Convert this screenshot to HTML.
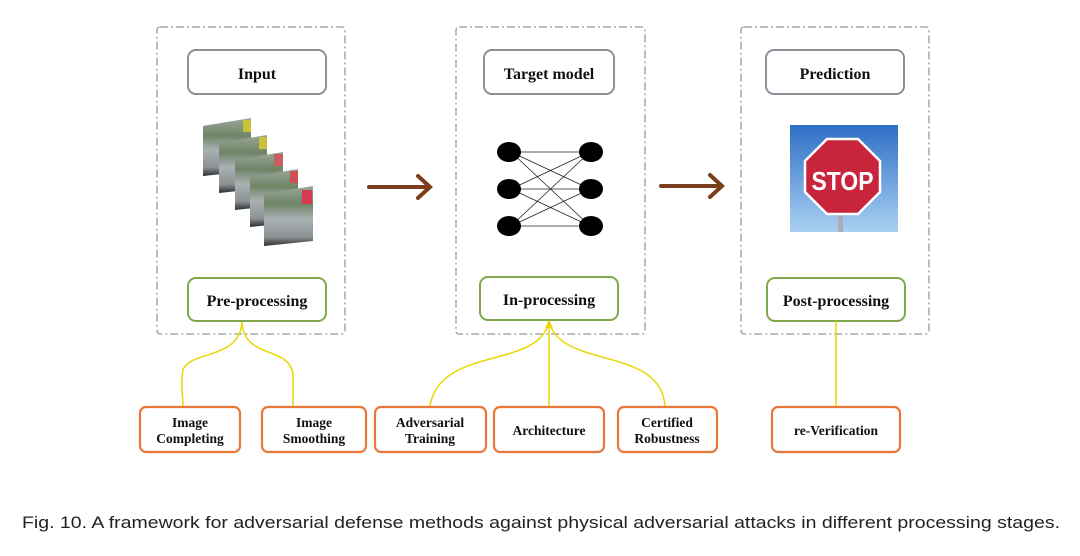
<!DOCTYPE html>
<html><head><meta charset="utf-8"><style>
html,body{margin:0;padding:0;background:#fff;}
svg{display:block;}
.t{font-family:"Liberation Serif",serif;font-weight:bold;fill:#111;text-anchor:middle;}
</style></head><body>
<svg width="1080" height="556" viewBox="0 0 1080 556" xmlns="http://www.w3.org/2000/svg">
<defs>
<linearGradient id="ph" x1="0" y1="0" x2="0" y2="1">
<stop offset="0" stop-color="#9aa79a"/><stop offset="0.3" stop-color="#6f8466"/><stop offset="0.55" stop-color="#a9b1b3"/><stop offset="0.85" stop-color="#8c9194"/><stop offset="1" stop-color="#2b2e30"/>
</linearGradient>
<linearGradient id="sky" x1="0" y1="0" x2="0" y2="1">
<stop offset="0" stop-color="#2f6fc6"/><stop offset="1" stop-color="#a9d0f2"/>
</linearGradient>
</defs>
<g fill="none" stroke="#999" stroke-width="1.3" stroke-dasharray="8,3,2,3">
<rect x="157" y="27" width="188" height="307" rx="3"/>
<rect x="456" y="27" width="189" height="307" rx="3"/>
<rect x="741" y="27" width="188" height="307" rx="3"/>
</g>
<g fill="#fff" stroke="#8a8f98" stroke-width="2">
<rect x="188" y="50" width="138" height="44" rx="8"/>
<rect x="484" y="50" width="130" height="44" rx="8"/>
<rect x="766" y="50" width="138" height="44" rx="8"/>
</g>
<g fill="#fff" stroke="#7fa84a" stroke-width="2">
<rect x="188" y="278" width="138" height="43" rx="8"/>
<rect x="480" y="277" width="138" height="43" rx="8"/>
<rect x="767" y="278" width="138" height="43" rx="8"/>
</g>
<g class="t" font-size="16">
<text x="257" y="79">Input</text>
<text x="549" y="79">Target model</text>
<text x="835" y="79">Prediction</text>
<text x="257" y="306">Pre-processing</text>
<text x="549" y="305">In-processing</text>
<text x="836" y="306">Post-processing</text>
</g>
<g>
<polygon points="203,126 251,118 251,171 203,176" fill="url(#ph)"/>
<rect x="243" y="120" width="8" height="12" fill="#c8c23a"/>
<polygon points="219,143 267,135 267,188 219,193" fill="url(#ph)"/>
<rect x="259" y="137" width="8" height="12" fill="#c8c23a"/>
<polygon points="235,160 283,152 283,205 235,210" fill="url(#ph)"/>
<rect x="274" y="154" width="9" height="12" fill="#c86060"/>
<polygon points="250,177 298,169 298,222 250,227" fill="url(#ph)"/>
<rect x="290" y="171" width="8" height="12" fill="#d05050"/>
<polygon points="264,194 313,186 313,241 264,246" fill="url(#ph)"/>
<rect x="302" y="190" width="10" height="14" fill="#d83a50"/>
</g>
<g stroke="#7a3e1a" stroke-width="4" fill="none" stroke-linecap="round">
<line x1="369" y1="187" x2="428" y2="187"/>
<polyline points="418,176 430,187 418,198"/>
<line x1="661" y1="186" x2="720" y2="186"/>
<polyline points="710,175 722,186 710,197"/>
</g>
<g stroke="#222" stroke-width="0.8">
<line x1="511" y1="152" x2="590" y2="152"/><line x1="511" y1="152" x2="590" y2="189"/><line x1="511" y1="152" x2="590" y2="226"/>
<line x1="511" y1="189" x2="590" y2="152"/><line x1="511" y1="189" x2="590" y2="189"/><line x1="511" y1="189" x2="590" y2="226"/>
<line x1="511" y1="226" x2="590" y2="152"/><line x1="511" y1="226" x2="590" y2="189"/><line x1="511" y1="226" x2="590" y2="226"/>
</g>
<g fill="#000">
<ellipse cx="509" cy="152" rx="12" ry="10"/><ellipse cx="509" cy="189" rx="12" ry="10"/><ellipse cx="509" cy="226" rx="12" ry="10"/>
<ellipse cx="591" cy="152" rx="12" ry="10"/><ellipse cx="591" cy="189" rx="12" ry="10"/><ellipse cx="591" cy="226" rx="12" ry="10"/>
</g>
<rect x="790" y="125" width="108" height="107" fill="url(#sky)"/>
<rect x="838" y="212" width="5" height="20" fill="#aab"/>
<polygon points="827,139 858,139 880,161 880,192 858,214 827,214 805,192 805,161" fill="#c8243c" stroke="#fff" stroke-width="2.5"/>
<text x="842.5" y="190" font-family="Liberation Sans,sans-serif" font-weight="bold" font-size="26" fill="#fff" text-anchor="middle" textLength="62" lengthAdjust="spacingAndGlyphs">STOP</text>
<g stroke="#e6d800" stroke-width="1.5" fill="none">
<path d="M242,322 C240,360 190,350 183,370 C180,385 183,395 183,406"/>
<path d="M242,322 C244,360 290,345 293,375 L293,406"/>
<path d="M549,321 C540,370 440,345 430,406"/>
<line x1="549" y1="321" x2="549" y2="406"/>
<path d="M549,321 C560,370 660,345 665,406"/>
<line x1="836" y1="321" x2="836" y2="406"/>
</g>
<polygon points="549,320 545,328 553,328" fill="#e6d800"/>
<g fill="#fff" stroke="#e8783a" stroke-width="2.2">
<rect x="140" y="407" width="100" height="45" rx="6"/>
<rect x="262" y="407" width="104" height="45" rx="6"/>
<rect x="375" y="407" width="111" height="45" rx="6"/>
<rect x="494" y="407" width="110" height="45" rx="6"/>
<rect x="618" y="407" width="99" height="45" rx="6"/>
<rect x="772" y="407" width="128" height="45" rx="6"/>
</g>
<g class="t" font-size="13.5">
<text x="190" y="427">Image</text><text x="190" y="443">Completing</text>
<text x="314" y="427">Image</text><text x="314" y="443">Smoothing</text>
<text x="430" y="427">Adversarial</text><text x="430" y="443">Training</text>
<text x="549" y="435">Architecture</text>
<text x="667" y="427">Certified</text><text x="667" y="443">Robustness</text>
<text x="836" y="435">re-Verification</text>
</g>
<text x="22" y="528" font-family="Liberation Sans,sans-serif" font-size="17" fill="#222" textLength="1038" lengthAdjust="spacingAndGlyphs">Fig. 10.  A framework for adversarial defense methods against physical adversarial attacks in different processing stages.</text>
</svg>
</body></html>
